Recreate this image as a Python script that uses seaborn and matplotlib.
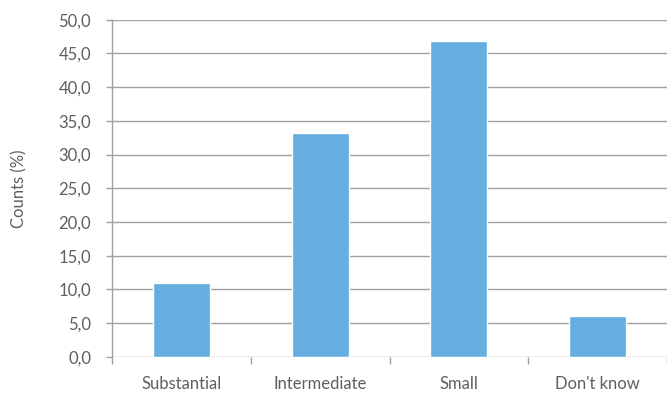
import matplotlib
matplotlib.use("Agg")
import matplotlib.pyplot as plt
import matplotlib.ticker as mticker
import seaborn as sns
import pandas as pd
import numpy as np

categories = ["Substantial", "Intermediate", "Small", "Don't know"]
counts_pct = [11.0, 33.2, 46.8, 6.1]
y_ticks = [0, 5, 10, 15, 20, 25, 30, 35, 40, 45, 50]

sns.set_theme(style="white")
plt.rcParams["font.family"] = ["Lato", "DejaVu Sans"]

text_color = "#5f5f5f"
grid_color = "#a0a0a0"
bar_color = "#66aee0"

df = pd.DataFrame({"category": categories, "pct": counts_pct})

fig_w, fig_h = 667, 396
ax_left, ax_width = 0.168, 0.832
fig = plt.figure(figsize=(fig_w / 100, fig_h / 100), dpi=100)
ax = fig.add_axes([ax_left, 0.099, ax_width, 0.851])

sns.barplot(data=df, x="category", y="pct", color=bar_color, width=0.41,
            saturation=1, ax=ax, zorder=3)

ax.set_ylim(0, 50)
ax.set_xlim(-0.5, len(categories) - 0.5)
ax.set_yticks(y_ticks)
ax.yaxis.set_major_formatter(mticker.FuncFormatter(lambda v, p: f"{v:.1f}".replace(".", ",")))
ax.yaxis.grid(True, color=grid_color, linewidth=1.0, zorder=0)
ax.set_axisbelow(True)

for side in ["top", "right", "bottom"]:
    ax.spines[side].set_visible(False)
ax.spines["left"].set_color(grid_color)
ax.spines["left"].set_linewidth(1.0)

# y ticks point outward; x ticks sit at the category boundaries
ax.tick_params(axis="y", which="major", left=True, length=4, width=1.0,
               color=grid_color, labelcolor=text_color, labelsize=12, pad=11)
ax.set_xticks(range(len(categories)))
ax.set_xticklabels(categories)
ax.tick_params(axis="x", which="major", bottom=False, labelcolor=text_color,
               labelsize=12, pad=8)
ax.set_xticks(np.arange(-0.5, len(categories), 1.0), minor=True)
ax.tick_params(axis="x", which="minor", bottom=True, length=5, width=1.0,
               color=grid_color)

ax.set_xlabel("")
ax.set_ylabel("Counts (%)", color=text_color, fontsize=12)
# place the y label near the left edge of the figure
ax.yaxis.set_label_coords((27 - ax_left * fig_w) / (ax_width * fig_w), 0.5)

fig.savefig("out.png", dpi=100, facecolor="white")
